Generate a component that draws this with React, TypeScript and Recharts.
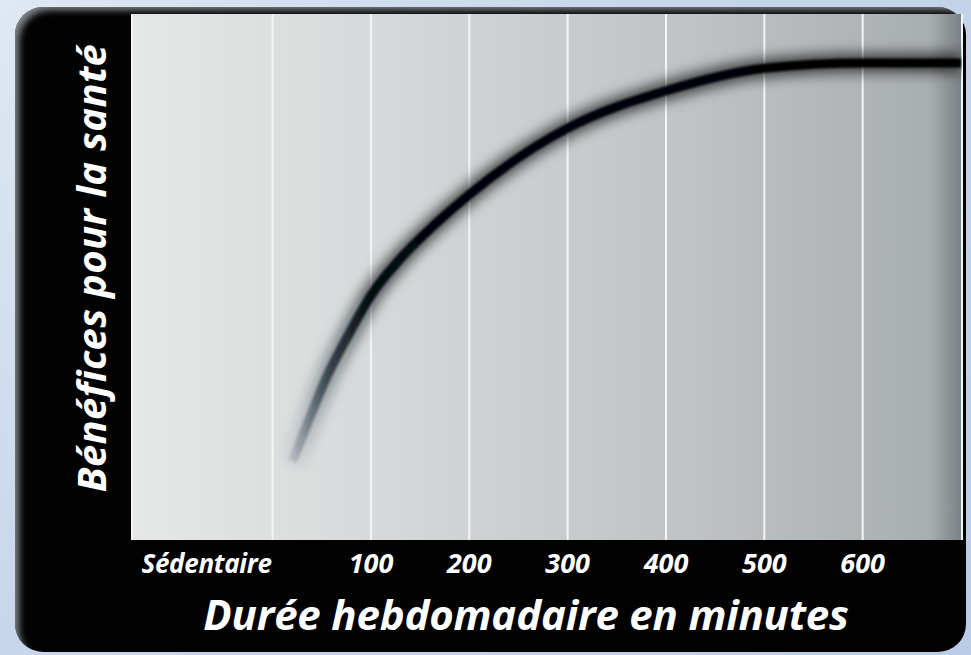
import { LineChart, Line, XAxis, YAxis, CartesianGrid } from "recharts";

// minutes per week vs. health benefit (relative scale 0-100)
const minutes = [20, 35, 55, 80, 100, 130, 165, 200, 300, 400, 500, 600, 700];
const benefits = [15, 22, 31, 40, 46.5, 53.5, 60, 65.7, 78.3, 85.4, 89.7, 90.7, 90.7];

const tickValues = [0, 100, 200, 300, 400, 500, 600];
const tickLabels = ["Sédentaire", "100", "200", "300", "400", "500", "600"];

const xTitle = "Durée hebdomadaire en minutes";
const yTitle = "Bénéfices pour la santé";

const data = minutes.map((m, i) => ({ m, v: benefits[i] }));

const FONT = "'Open Sans', 'DejaVu Sans', sans-serif";

function Tick(props: any) {
  const { x, y, payload } = props;
  const i = tickValues.indexOf(payload.value);
  const first = i === 0;
  return (
    <text
      x={first ? x - 1 : x}
      y={y + 33}
      textAnchor={first ? "end" : "middle"}
      fill="#fff"
      fontFamily={FONT}
      fontWeight={700}
      fontStyle="italic"
      fontSize={first ? 26 : 27}
      letterSpacing={first ? -0.3 : 0}
    >
      {tickLabels[i]}
    </text>
  );
}

export default function App() {
  return (
    <div
      style={{
        position: "fixed",
        left: 0,
        top: 0,
        width: 971,
        height: 655,
        background: "linear-gradient(135deg, #dfe8f3 0%, #c7d6ea 40%, #b9cce6 100%)",
        overflow: "hidden",
      }}
    >
      <div
        style={{
          position: "absolute",
          left: 15,
          top: 7,
          width: 951,
          height: 645,
          borderRadius: 28,
          background: "#020202",
          boxShadow: "inset 7px 6px 7px -3px rgba(175,180,185,0.75)",
        }}
      />
      <div style={{ position: "absolute", left: 0, top: 0 }}>
        <LineChart
          width={971}
          height={655}
          data={data}
          margin={{ top: 14, right: 9, left: 0, bottom: 0 }}
        >
          <defs>
            <linearGradient id="plotBg" x1="0" y1="0" x2="1" y2="0">
              <stop offset="0" stopColor="#e6e7e7" />
              <stop offset="0.35" stopColor="#d3d6d7" />
              <stop offset="0.7" stopColor="#bdc1c3" />
              <stop offset="0.96" stopColor="#a9aeb1" />
              <stop offset="1" stopColor="#7b8084" />
            </linearGradient>
            <linearGradient id="fade" x1="0" y1="0" x2="1" y2="0">
              <stop offset="0" stopColor="#2a3e50" stopOpacity={0.15} />
              <stop offset="0.05" stopColor="#14222e" stopOpacity={0.65} />
              <stop offset="0.12" stopColor="#03070a" stopOpacity={1} />
              <stop offset="1" stopColor="#020405" stopOpacity={1} />
            </linearGradient>
            <filter id="halo" filterUnits="userSpaceOnUse" x="0" y="0" width="971" height="655">
              <feGaussianBlur stdDeviation="7" />
            </filter>
            <filter id="soft" filterUnits="userSpaceOnUse" x="0" y="0" width="971" height="655">
              <feGaussianBlur stdDeviation="0.9" />
            </filter>
          </defs>
          <CartesianGrid
            horizontal={false}
            vertical
            fill="url(#plotBg)"
            fillOpacity={1}
            stroke="#f3f5f7"
            strokeWidth={2}
          />
          <XAxis
            type="number"
            dataKey="m"
            domain={[-143, 701]}
            ticks={tickValues}
            tick={<Tick />}
            tickLine={false}
            axisLine={false}
            tickSize={0}
            tickMargin={0}
            height={115}
            interval={0}
            allowDataOverflow
            label={{
              content: ({ viewBox }: any) => (
                <text
                  x={viewBox.x + viewBox.width / 2 - 21}
                  y={viewBox.y + 90}
                  textAnchor="middle"
                  fill="#fff"
                  fontFamily={FONT}
                  fontWeight={700}
                  fontStyle="italic"
                  fontSize={42}
                  letterSpacing={-0.2}
                >
                  {xTitle}
                </text>
              ),
            }}
          />
          <YAxis
            type="number"
            domain={[0, 100]}
            width={132}
            tick={false}
            tickLine={false}
            axisLine={false}
            label={{
              content: ({ viewBox }: any) => {
                const cx = 106;
                const cy = viewBox.y + viewBox.height / 2 - 9;
                return (
                  <text
                    x={cx}
                    y={cy}
                    transform={`rotate(-90, ${cx}, ${cy})`}
                    textAnchor="middle"
                    fill="#fff"
                    fontFamily={FONT}
                    fontWeight={700}
                    fontStyle="italic"
                    fontSize={40}
                    letterSpacing={0.3}
                  >
                    {yTitle}
                  </text>
                );
              },
            }}
          />
          <Line
            type="monotone"
            dataKey="v"
            stroke="url(#fade)"
            strokeWidth={18}
            strokeOpacity={0.7}
            filter="url(#halo)"
            dot={false}
            activeDot={false}
            isAnimationActive={false}
          />
          <Line
            type="monotone"
            dataKey="v"
            stroke="url(#fade)"
            strokeWidth={9}
            filter="url(#soft)"
            dot={false}
            activeDot={false}
            isAnimationActive={false}
          />
        </LineChart>
      </div>
    </div>
  );
}
